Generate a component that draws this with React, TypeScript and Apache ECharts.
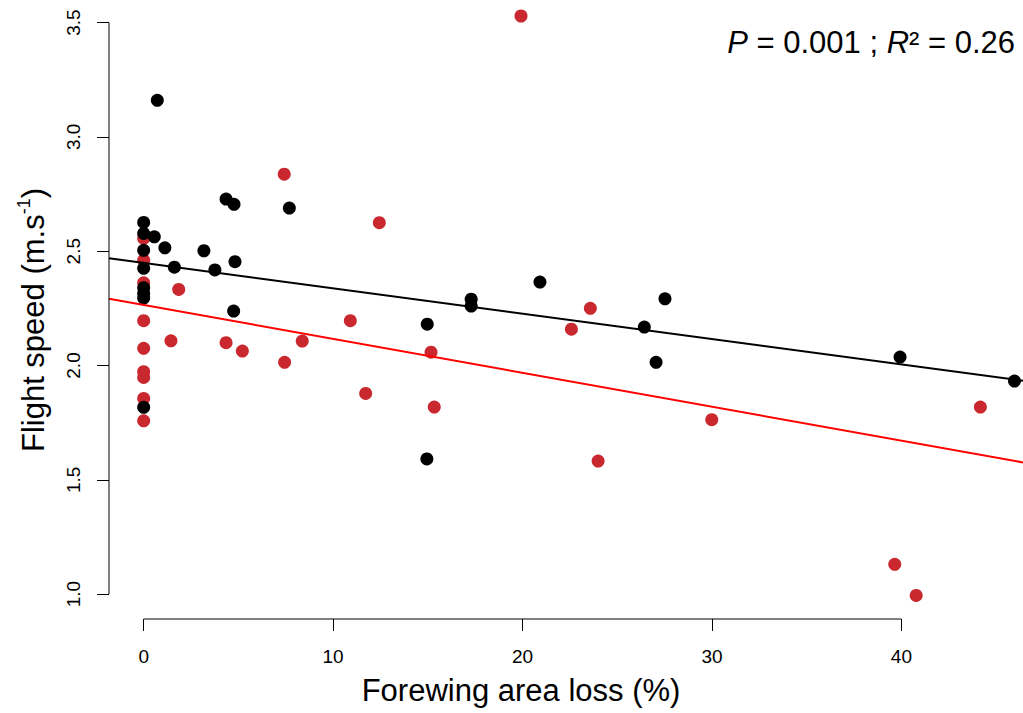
import React, { useEffect, useRef } from "react";
import * as echarts from "echarts";

// Data
const blackPoints: [number, number][] = [
  [0, 2.626], [0, 2.578], [0, 2.504], [0, 2.425], [0, 2.34], [0, 2.315], [0, 2.295], [0, 1.817],
  [0.56, 2.563], [1.12, 2.515], [1.62, 2.43], [0.72, 3.16], [4.35, 2.728], [4.77, 2.705],
  [3.18, 2.502], [3.76, 2.418], [4.82, 2.454], [4.75, 2.238], [7.69, 2.689], [14.97, 2.181],
  [14.95, 1.591], [17.29, 2.29], [17.29, 2.26], [20.92, 2.365], [27.52, 2.292], [26.43, 2.168],
  [27.05, 2.014], [39.93, 2.037], [45.97, 1.932],
];
const redPoints: [number, number][] = [
  [0, 2.556], [0, 2.461], [0, 2.362], [0, 2.196], [0, 2.075], [0, 1.973], [0, 1.948], [0, 1.856], [0, 1.758],
  [1.85, 2.333], [1.44, 2.108], [4.35, 2.1], [5.21, 2.063], [7.42, 2.837], [12.44, 2.625],
  [10.91, 2.196], [8.37, 2.107], [7.44, 2.014], [11.72, 1.878], [15.17, 2.058], [15.34, 1.818],
  [19.92, 3.529], [23.58, 2.25], [22.58, 2.159], [29.99, 1.763], [23.99, 1.582], [44.17, 1.818],
  [39.65, 1.13], [40.78, 0.994],
];
// regression lines: [intercept, slope]
const blackFit = [2.449, -0.01111];
const redFit = [2.265, -0.01484];

const xTicks = [0, 10, 20, 30, 40];
const yTicks = [1.0, 1.5, 2.0, 2.5, 3.0, 3.5];
const xRange = [-1.83, 46.42];
const yRange = [0.891, 3.599];

const RED_PT = "#C8282E";
const FONT = "Liberation Sans, Arial, sans-serif";

export default function App() {
  const ref = useRef<HTMLDivElement>(null);
  useEffect(() => {
    const chart = echarts.init(ref.current!, null, { renderer: "svg" });
    const fitLine = (f: number[]) => [
      [xRange[0], f[0] + f[1] * xRange[0]],
      [xRange[1], f[0] + f[1] * xRange[1]],
    ];
    chart.setOption({
      animation: false,
      grid: { left: 109, right: 0, top: 0, bottom: 94 },
      xAxis: {
        type: "value",
        min: xRange[0],
        max: xRange[1],
        splitLine: { show: false },
        axisLine: { show: false, onZero: false },
        axisTick: { show: true, length: 12, customValues: xTicks, lineStyle: { color: "#000", width: 1 } },
        axisLabel: {
          customValues: xTicks,
          margin: 28,
          color: "#000",
          fontSize: 19,
          fontFamily: FONT,
          formatter: (v: number) => String(v),
        },
      },
      yAxis: {
        type: "value",
        min: yRange[0],
        max: yRange[1],
        splitLine: { show: false },
        axisLine: { show: false, onZero: false },
        axisTick: { show: true, length: 12, customValues: yTicks, lineStyle: { color: "#000", width: 1 } },
        axisLabel: {
          customValues: yTicks,
          rotate: 90,
          margin: 26,
          color: "#000",
          fontSize: 19,
          fontFamily: FONT,
          formatter: (v: number) => v.toFixed(1),
        },
      },
      series: [
        {
          type: "line",
          data: [[xTicks[0], yRange[0]], [xTicks[xTicks.length - 1], yRange[0]]],
          symbol: "none",
          clip: false,
          lineStyle: { color: "#000", width: 1 },
          z: 5,
        },
        {
          type: "line",
          data: [[xRange[0], yTicks[0]], [xRange[0], yTicks[yTicks.length - 1]]],
          symbol: "none",
          clip: false,
          lineStyle: { color: "#000", width: 1 },
          z: 5,
        },
        {
          type: "scatter",
          data: redPoints,
          symbolSize: 13,
          itemStyle: { color: RED_PT, opacity: 1 },
          z: 2,
        },
        {
          type: "scatter",
          data: blackPoints,
          symbolSize: 13,
          itemStyle: { color: "#000", opacity: 1 },
          z: 3,
        },
        {
          type: "line",
          data: fitLine(blackFit),
          symbol: "none",
          lineStyle: { color: "#000", width: 2 },
          z: 4,
        },
        {
          type: "line",
          data: fitLine(redFit),
          symbol: "none",
          lineStyle: { color: "#FF0000", width: 2 },
          z: 4,
        },
      ],
      graphic: [
        {
          type: "text",
          x: 1015,
          y: 42,
          style: {
            text: "{i|P} = 0.001 ; {i|R}² = 0.26",
            align: "right",
            verticalAlign: "middle",
            fill: "#000",
            fontSize: 31,
            fontFamily: FONT,
            rich: {
              i: { fontStyle: "italic", fontSize: 31, fontFamily: FONT },
            },
          },
        },
        {
          type: "text",
          x: 521,
          y: 690,
          style: {
            text: "Forewing area loss (%)",
            align: "center",
            verticalAlign: "middle",
            fill: "#000",
            fontSize: 31,
            fontFamily: FONT,
          },
        },
        {
          type: "text",
          x: 33,
          y: 320,
          rotation: Math.PI / 2,
          style: {
            text: "{n|Flight speed (m.s}{s|-1}{n|)}",
            align: "center",
            verticalAlign: "middle",
            fill: "#000",
            rich: {
              n: { fontSize: 31, lineHeight: 36, fontFamily: FONT },
              s: { fontSize: 18, lineHeight: 18, verticalAlign: "top", fontFamily: FONT },
            },
          },
        },
      ],
    });
    return () => chart.dispose();
  }, []);
  return (
    <div
      ref={ref}
      style={{ position: "fixed", left: 0, top: 0, width: 1023, height: 713, background: "#fff" }}
    />
  );
}
